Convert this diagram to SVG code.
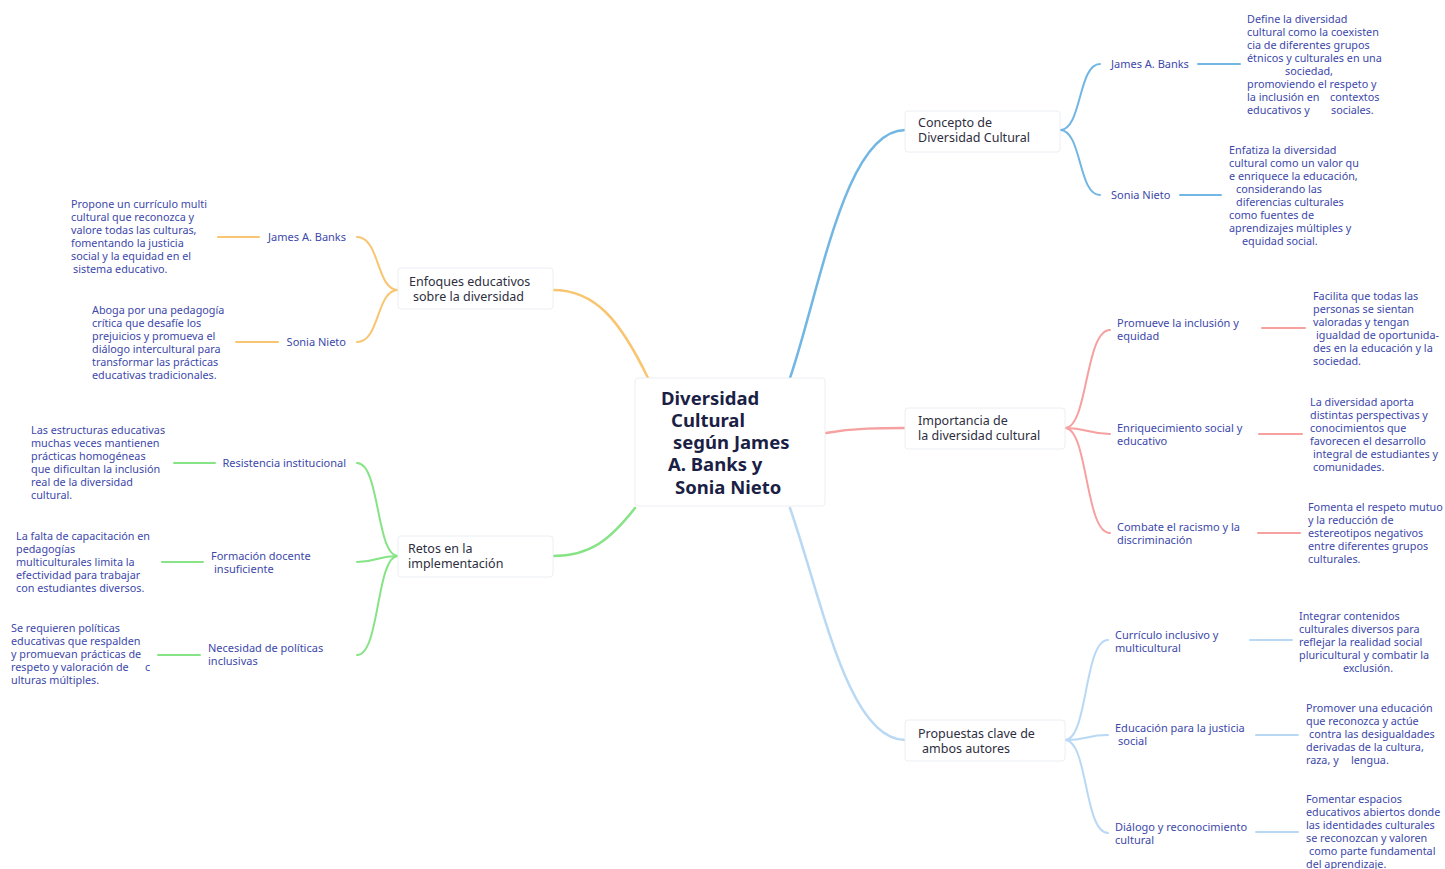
<svg xmlns="http://www.w3.org/2000/svg" width="1445" height="869" viewBox="0 0 1445 869">
<style>
text{font-family:"Noto Sans","Open Sans","Liberation Sans",sans-serif}
.leaf{font-size:10.8px;fill:#3d48aa}
.lbl{font-size:11px;fill:#3d48aa}
.main{font-size:12.5px;fill:#2e2e3e}
.title{font-size:18.5px;font-weight:bold;fill:#1c1f45}
.box{fill:#fff;stroke:#eceef3;stroke-width:1}
.c{fill:none;stroke-linecap:round;stroke-width:2.5}
.s{fill:none;stroke-linecap:round;stroke-width:2}
.o{stroke:#f8c571}.b{stroke:#72b6e3}.r{stroke:#f6a0a0}.g{stroke:#86e486}.lb{stroke:#b9d8f4}
</style>
<rect width="1445" height="869" fill="#fff"/>
<g id="connectors">
<path class="c o" d="M648,378 C620,320 595,290 553,290"/>
<path class="c b" d="M790,378 C820,290 845,130 905,130"/>
<path class="c r" d="M826,433 C855,428 880,428 905,428"/>
<path class="c g" d="M635,508 C610,540 590,556 553,556"/>
<path class="c lb" d="M790,508 C822,600 848,740 905,740"/>
<path class="s b" d="M1060,130 C1082,130 1078,64 1100,64"/>
<path class="s b" d="M1060,130 C1082,130 1078,195 1100,195"/>
<path class="s r" d="M1065,428 C1088,428 1085,330 1110,330"/>
<path class="s r" d="M1065,428 C1088,428 1088,434 1110,434"/>
<path class="s r" d="M1065,428 C1088,428 1085,533 1110,533"/>
<path class="s lb" d="M1065,740 C1088,740 1084,640 1108,640"/>
<path class="s lb" d="M1065,740 C1088,740 1086,735 1108,735"/>
<path class="s lb" d="M1065,740 C1088,740 1084,833 1108,833"/>
<path class="s o" d="M398,290 C376,290 380,237 357,237"/>
<path class="s o" d="M398,290 C376,290 380,342 357,342"/>
<path class="s g" d="M398,556 C376,556 380,463 357,463"/>
<path class="s g" d="M398,556 C376,556 378,562 357,562"/>
<path class="s g" d="M398,556 C376,556 380,655 357,655"/>
<path class="s b" d="M1198,64 H1240"/>
<path class="s b" d="M1180,195 H1221"/>
<path class="s r" d="M1262,328 H1305"/>
<path class="s r" d="M1259,434 H1302"/>
<path class="s r" d="M1258,533 H1300"/>
<path class="s lb" d="M1250,640 H1292"/>
<path class="s lb" d="M1256,735 H1298"/>
<path class="s lb" d="M1256,832 H1298"/>
<path class="s o" d="M218,237 H259"/>
<path class="s o" d="M236,342 H278"/>
<path class="s g" d="M174,463 H215"/>
<path class="s g" d="M162,562 H203"/>
<path class="s g" d="M158,655 H200"/>
</g>
<g id="center">
<rect class="box" x="635" y="378" width="190" height="128" rx="3"/>
<text class="title"><tspan x="661" y="405">Diversidad</tspan><tspan x="671" y="427">Cultural</tspan><tspan x="673" y="449">según James</tspan><tspan x="668" y="471">A. Banks y</tspan><tspan x="675" y="494">Sonia Nieto</tspan></text>
</g>
<g id="concepto">
<rect class="box" x="905" y="111" width="155" height="41" rx="3"/>
<text class="main"><tspan x="918" y="127">Concepto de</tspan><tspan x="918" y="142">Diversidad Cultural</tspan></text>
</g>
<g id="importancia">
<rect class="box" x="905" y="408" width="160" height="41" rx="3"/>
<text class="main"><tspan x="918" y="425">Importancia de</tspan><tspan x="918" y="440">la diversidad cultural</tspan></text>
</g>
<g id="propuestas">
<rect class="box" x="905" y="720" width="160" height="41" rx="3"/>
<text class="main"><tspan x="918" y="738">Propuestas clave de</tspan><tspan x="922" y="753">ambos autores</tspan></text>
</g>
<g id="enfoques">
<rect class="box" x="398" y="268" width="155" height="41" rx="3"/>
<text class="main"><tspan x="409" y="286">Enfoques educativos</tspan><tspan x="413" y="301">sobre la diversidad</tspan></text>
</g>
<g id="retos">
<rect class="box" x="398" y="536" width="155" height="41" rx="3"/>
<text class="main"><tspan x="408" y="553">Retos en la</tspan><tspan x="408" y="568">implementación</tspan></text>
</g>
<g id="concepto-banks"><text class="lbl" x="1111" y="68">James A. Banks</text></g>
<g id="concepto-nieto"><text class="lbl" x="1111" y="199">Sonia Nieto</text></g>
<g id="concepto-banks-desc"><text class="leaf"><tspan x="1247" y="23">Define la diversidad</tspan><tspan x="1247" y="36">cultural como la coexisten</tspan><tspan x="1247" y="49">cia de diferentes grupos</tspan><tspan x="1247" y="62">étnicos y culturales en una</tspan><tspan x="1285" y="75">sociedad,</tspan><tspan x="1247" y="88">promoviendo el respeto y</tspan><tspan x="1247" y="101">la inclusión en</tspan><tspan x="1330" y="101">contextos</tspan><tspan x="1247" y="114">educativos y</tspan><tspan x="1331" y="114">sociales.</tspan></text></g>
<g id="concepto-nieto-desc"><text class="leaf"><tspan x="1229" y="154">Enfatiza la diversidad</tspan><tspan x="1229" y="167">cultural como un valor qu</tspan><tspan x="1229" y="180">e enriquece la educación,</tspan><tspan x="1236" y="193">considerando las</tspan><tspan x="1236" y="206">diferencias culturales</tspan><tspan x="1229" y="219">como fuentes de</tspan><tspan x="1229" y="232">aprendizajes múltiples y</tspan><tspan x="1242" y="245">equidad social.</tspan></text></g>
<g id="imp-promueve"><text class="lbl"><tspan x="1117" y="327">Promueve la inclusión y</tspan><tspan x="1117" y="340">equidad</tspan></text></g>
<g id="imp-enriquecimiento"><text class="lbl"><tspan x="1117" y="432">Enriquecimiento social y</tspan><tspan x="1117" y="445">educativo</tspan></text></g>
<g id="imp-combate"><text class="lbl"><tspan x="1117" y="531">Combate el racismo y la</tspan><tspan x="1117" y="544">discriminación</tspan></text></g>
<g id="imp-promueve-desc"><text class="leaf"><tspan x="1313" y="300">Facilita que todas las</tspan><tspan x="1313" y="313">personas se sientan</tspan><tspan x="1313" y="326">valoradas y tengan</tspan><tspan x="1316" y="339">igualdad de oportunida-</tspan><tspan x="1313" y="352">des en la educación y la</tspan><tspan x="1313" y="365">sociedad.</tspan></text></g>
<g id="imp-enriquecimiento-desc"><text class="leaf"><tspan x="1310" y="406">La diversidad aporta</tspan><tspan x="1310" y="419">distintas perspectivas y</tspan><tspan x="1310" y="432">conocimientos que</tspan><tspan x="1310" y="445">favorecen el desarrollo</tspan><tspan x="1313" y="458">integral de estudiantes y</tspan><tspan x="1313" y="471">comunidades.</tspan></text></g>
<g id="imp-combate-desc"><text class="leaf"><tspan x="1308" y="511">Fomenta el respeto mutuo</tspan><tspan x="1308" y="524">y la reducción de</tspan><tspan x="1308" y="537">estereotipos negativos</tspan><tspan x="1308" y="550">entre diferentes grupos</tspan><tspan x="1308" y="563">culturales.</tspan></text></g>
<g id="prop-curriculo"><text class="lbl"><tspan x="1115" y="639">Currículo inclusivo y</tspan><tspan x="1115" y="652">multicultural</tspan></text></g>
<g id="prop-justicia"><text class="lbl"><tspan x="1115" y="732">Educación para la justicia</tspan><tspan x="1118" y="745">social</tspan></text></g>
<g id="prop-dialogo"><text class="lbl"><tspan x="1115" y="831">Diálogo y reconocimiento</tspan><tspan x="1115" y="844">cultural</tspan></text></g>
<g id="prop-curriculo-desc"><text class="leaf"><tspan x="1299" y="620">Integrar contenidos</tspan><tspan x="1299" y="633">culturales diversos para</tspan><tspan x="1299" y="646">reflejar  la realidad social</tspan><tspan x="1299" y="659">pluricultural y combatir la</tspan><tspan x="1343" y="672">exclusión.</tspan></text></g>
<g id="prop-justicia-desc"><text class="leaf"><tspan x="1306" y="712">Promover una educación</tspan><tspan x="1306" y="725">que reconozca y actúe</tspan><tspan x="1309" y="738">contra las desigualdades</tspan><tspan x="1306" y="751">derivadas de la cultura,</tspan><tspan x="1306" y="764">raza, y</tspan><tspan x="1351" y="764">lengua.</tspan></text></g>
<g id="prop-dialogo-desc"><text class="leaf"><tspan x="1306" y="803">Fomentar espacios</tspan><tspan x="1306" y="816">educativos abiertos donde</tspan><tspan x="1306" y="829">las identidades culturales</tspan><tspan x="1306" y="842">se reconozcan y valoren</tspan><tspan x="1309" y="855">como parte fundamental</tspan><tspan x="1306" y="868">del aprendizaje.</tspan></text></g>
<g id="enf-banks"><text class="lbl" x="346" y="241" text-anchor="end">James A. Banks</text></g>
<g id="enf-nieto"><text class="lbl" x="346" y="346" text-anchor="end">Sonia Nieto</text></g>
<g id="enf-banks-desc"><text class="leaf"><tspan x="71" y="208">Propone un currículo multi</tspan><tspan x="71" y="221">cultural que reconozca y</tspan><tspan x="71" y="234">valore todas las culturas,</tspan><tspan x="71" y="247">fomentando la justicia</tspan><tspan x="71" y="260">social y la equidad en el</tspan><tspan x="73" y="273">sistema educativo.</tspan></text></g>
<g id="enf-nieto-desc"><text class="leaf"><tspan x="92" y="314">Aboga por una pedagogía</tspan><tspan x="92" y="327">crítica que desafíe los</tspan><tspan x="92" y="340">prejuicios y promueva el</tspan><tspan x="92" y="353">diálogo intercultural para</tspan><tspan x="92" y="366">transformar las prácticas</tspan><tspan x="92" y="379">educativas tradicionales.</tspan></text></g>
<g id="retos-resistencia"><text class="lbl" x="346" y="467" text-anchor="end">Resistencia institucional</text></g>
<g id="retos-formacion"><text class="lbl"><tspan x="211" y="560">Formación docente</tspan><tspan x="214" y="573">insuficiente</tspan></text></g>
<g id="retos-necesidad"><text class="lbl"><tspan x="208" y="652">Necesidad de políticas</tspan><tspan x="208" y="665">inclusivas</tspan></text></g>
<g id="retos-resistencia-desc"><text class="leaf"><tspan x="31" y="434">Las estructuras educativas</tspan><tspan x="31" y="447">muchas veces mantienen</tspan><tspan x="31" y="460">prácticas homogéneas</tspan><tspan x="31" y="473">que dificultan la inclusión</tspan><tspan x="31" y="486">real de la diversidad</tspan><tspan x="31" y="499">cultural.</tspan></text></g>
<g id="retos-formacion-desc"><text class="leaf"><tspan x="16" y="540">La falta de capacitación en</tspan><tspan x="16" y="553">pedagogías</tspan><tspan x="16" y="566">multiculturales limita la</tspan><tspan x="16" y="579">efectividad para trabajar</tspan><tspan x="16" y="592">con estudiantes diversos.</tspan></text></g>
<g id="retos-necesidad-desc"><text class="leaf"><tspan x="11" y="632">Se requieren políticas</tspan><tspan x="11" y="645">educativas que respalden</tspan><tspan x="11" y="658">y promuevan prácticas de</tspan><tspan x="11" y="671">respeto y valoración de</tspan><tspan x="145" y="671">c</tspan><tspan x="11" y="684">ulturas múltiples.</tspan></text></g>
</svg>
